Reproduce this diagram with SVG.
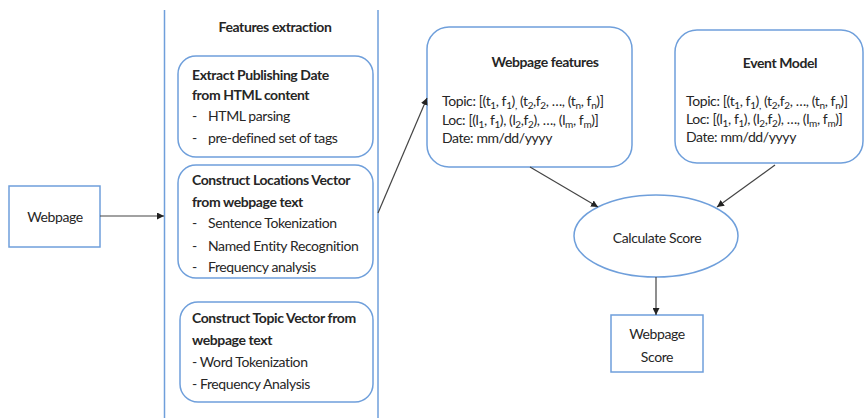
<svg xmlns="http://www.w3.org/2000/svg" width="868" height="418" viewBox="0 0 868 418">
<defs>
<marker id="ah" viewBox="0 0 10 10" refX="10" refY="5" markerWidth="7" markerHeight="7" orient="auto" markerUnits="userSpaceOnUse">
<path d="M0,0 L10,5 L0,10 z" fill="#222"/>
</marker>
</defs>
<style>
.box{fill:#fff;stroke:#6f9fdb;stroke-width:1.5}
.t{font-family:Lato,"Liberation Sans",sans-serif;font-size:14px;fill:#262626;letter-spacing:-0.4px}
.b{font-weight:bold}
.c{text-anchor:middle}
.s{font-size:10px}
.conn{stroke:#444;stroke-width:1.2;fill:none;marker-end:url(#ah)}
</style>
<rect width="868" height="418" fill="#fff"/>

<g id="features-extraction">
<line x1="164.5" y1="10" x2="164.5" y2="418" stroke="#6f9fdb" stroke-width="1.5"/>
<line x1="378" y1="10" x2="378" y2="418" stroke="#6f9fdb" stroke-width="1.5"/>
<text class="t b c" x="275" y="32">Features extraction</text>
</g>

<g id="extract-date">
<rect class="box" x="178" y="56" width="195" height="101" rx="18"/>
<text class="t b" x="192" y="80">Extract Publishing Date</text>
<text class="t b" x="192" y="100">from HTML content</text>
<text class="t" x="192" y="121">-</text><text class="t" x="208" y="121">HTML parsing</text>
<text class="t" x="192" y="143">-</text><text class="t" x="208" y="143">pre-defined set of tags</text>
</g>

<g id="locations-vector">
<rect class="box" x="178" y="165" width="195" height="113" rx="18"/>
<text class="t b" x="192" y="185">Construct Locations Vector</text>
<text class="t b" x="192" y="207">from webpage text</text>
<text class="t" x="192" y="228">-</text><text class="t" x="208" y="228">Sentence Tokenization</text>
<text class="t" x="192" y="251">-</text><text class="t" x="208" y="251">Named Entity Recognition</text>
<text class="t" x="192" y="272">-</text><text class="t" x="208" y="272">Frequency analysis</text>
</g>

<g id="topic-vector">
<rect class="box" x="180" y="302" width="193" height="100" rx="18"/>
<text class="t b" x="192" y="323">Construct Topic Vector from</text>
<text class="t b" x="192" y="345">webpage text</text>
<text class="t" x="192" y="367">- Word Tokenization</text>
<text class="t" x="192" y="389">- Frequency Analysis</text>
</g>

<g id="webpage">
<rect class="box" x="9" y="186" width="91" height="61"/>
<text class="t c" x="55" y="222">Webpage</text>
</g>

<g id="webpage-features">
<rect class="box" x="427" y="27" width="205" height="140" rx="22"/>
<text class="t b c" x="545" y="67">Webpage features</text>
<text class="t" x="442" y="106">Topic: [(t<tspan class="s" dy="2.5">1</tspan><tspan dy="-2.5">, f</tspan><tspan class="s" dy="2.5">1</tspan><tspan dy="-2.5">)</tspan><tspan class="s" dy="2.5">,</tspan><tspan dy="-2.5"> (t</tspan><tspan class="s" dy="2.5">2</tspan><tspan dy="-2.5">,f</tspan><tspan class="s" dy="2.5">2</tspan><tspan dy="-2.5">, …, (t</tspan><tspan class="s" dy="2.5">n</tspan><tspan dy="-2.5">, f</tspan><tspan class="s" dy="2.5">n</tspan><tspan dy="-2.5">)]</tspan></text>
<text class="t" x="442" y="125">Loc: [(l<tspan class="s" dy="2.5">1</tspan><tspan dy="-2.5">, f</tspan><tspan class="s" dy="2.5">1</tspan><tspan dy="-2.5">), (l</tspan><tspan class="s" dy="2.5">2</tspan><tspan dy="-2.5">,f</tspan><tspan class="s" dy="2.5">2</tspan><tspan dy="-2.5">), …, (l</tspan><tspan class="s" dy="2.5">m</tspan><tspan dy="-2.5">, f</tspan><tspan class="s" dy="2.5">m</tspan><tspan dy="-2.5">)]</tspan></text>
<text class="t" x="442" y="143">Date: mm/dd/yyyy</text>
</g>

<g id="event-model">
<rect class="box" x="675" y="30" width="188" height="133" rx="22"/>
<text class="t b c" x="780" y="68">Event Model</text>
<text class="t" x="686" y="106">Topic: [(t<tspan class="s" dy="2.5">1</tspan><tspan dy="-2.5">, f</tspan><tspan class="s" dy="2.5">1</tspan><tspan dy="-2.5">)</tspan><tspan class="s" dy="2.5">,</tspan><tspan dy="-2.5"> (t</tspan><tspan class="s" dy="2.5">2</tspan><tspan dy="-2.5">,f</tspan><tspan class="s" dy="2.5">2</tspan><tspan dy="-2.5">, …, (t</tspan><tspan class="s" dy="2.5">n</tspan><tspan dy="-2.5">, f</tspan><tspan class="s" dy="2.5">n</tspan><tspan dy="-2.5">)]</tspan></text>
<text class="t" x="686" y="124">Loc: [(l<tspan class="s" dy="2.5">1</tspan><tspan dy="-2.5">, f</tspan><tspan class="s" dy="2.5">1</tspan><tspan dy="-2.5">), (l</tspan><tspan class="s" dy="2.5">2</tspan><tspan dy="-2.5">,f</tspan><tspan class="s" dy="2.5">2</tspan><tspan dy="-2.5">), …, (l</tspan><tspan class="s" dy="2.5">m</tspan><tspan dy="-2.5">, f</tspan><tspan class="s" dy="2.5">m</tspan><tspan dy="-2.5">)]</tspan></text>
<text class="t" x="686" y="142">Date: mm/dd/yyyy</text>
</g>

<g id="calculate-score">
<ellipse class="box" cx="656" cy="236" rx="82" ry="41"/>
<text class="t c" x="657" y="243">Calculate Score</text>
</g>

<g id="webpage-score">
<rect class="box" x="611" y="315" width="92" height="57"/>
<text class="t c" x="657" y="339">Webpage</text>
<text class="t c" x="657" y="362">Score</text>
</g>

<g id="connectors">
<line class="conn" x1="100" y1="216" x2="164" y2="216"/>
<line class="conn" x1="378" y1="213" x2="427" y2="98"/>
<line class="conn" x1="530" y1="167" x2="598" y2="207"/>
<line class="conn" x1="775" y1="165" x2="717" y2="207"/>
<line class="conn" x1="656" y1="277" x2="656" y2="315"/>
</g>
</svg>
